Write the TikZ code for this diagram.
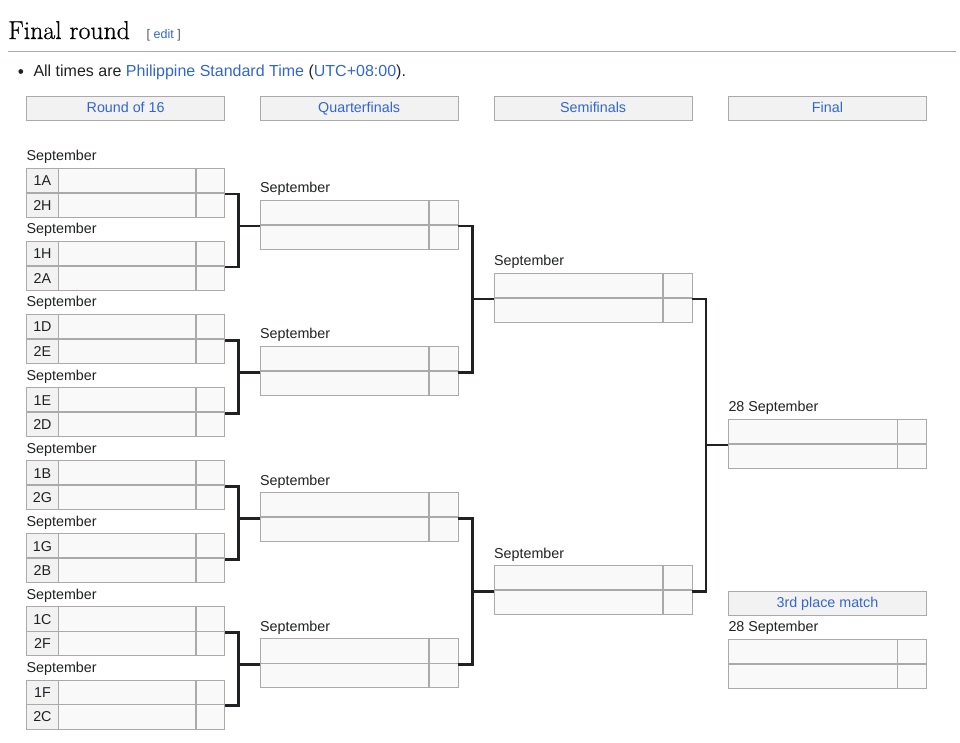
\documentclass[tikz,border=0pt]{standalone}
\usepackage{fontspec}
\newfontfamily\arial{Liberation Sans}
\newfontfamily\titlefont[FakeBold=0.6]{Latin Modern Roman}
\usetikzlibrary{calc}
\definecolor{txt}{HTML}{202122}
\definecolor{link}{HTML}{3366CC}
\definecolor{bord}{HTML}{AAAAAA}
\definecolor{cellfill}{HTML}{F9F9F9}
\definecolor{seedfill}{HTML}{F2F2F2}
\definecolor{hdrfill}{HTML}{F2F2F2}
\definecolor{rulec}{HTML}{A2A9B1}
\definecolor{editgray}{HTML}{54595D}
\newcommand{\bfont}{\arial\fontsize{14.3}{17}\selectfont}
% generic match: #1 name, #2 x, #3 top, #4 date label
\newcommand{\bmatch}[4]{%
  \node[matchbox, anchor=north west] (#1) at (#2,#3) {};
  \node[datelbl] (#1-lbl) at (#2,#3-7.6) {#4};
}
\newcommand{\bdividers}[1]{%
  \draw[divider] (#1.west) -- (#1.east);
  \draw[divider] ([xshift=-29pt]#1.north east) -- ([xshift=-29pt]#1.south east);
}
% seeded match: #1 name, #2 x, #3 top, #4 label, #5 seed1, #6 seed2
\newcommand{\smatch}[6]{%
  \bmatch{#1}{#2}{#3}{#4}
  \filldraw[seedcell] (#1.north west) rectangle ([xshift=31.8pt]#1.south west);
  \bdividers{#1}
  \node[seedtxt] (#1-s1) at ([xshift=15.9pt,yshift=-17.4pt]#1.north west) {#5};
  \node[seedtxt] (#1-s2) at ([xshift=15.9pt,yshift=-41.9pt]#1.north west) {#6};
}
\newcommand{\umatch}[4]{%
  \bmatch{#1}{#2}{#3}{#4}
  \bdividers{#1}
}
% connector: #1 upper, #2 lower, #3 next, #4 xshift of vertical from next.west
\newcommand{\joinpair}[4]{%
  \draw[conn] ([yshift=-1.2pt]#1.east) -| ([xshift=#4,yshift=-1.2pt]#3.west) |- ([yshift=-1.2pt]#2.east);
  \draw[conn] ([xshift=#4,yshift=-1.2pt]#3.west) -- ([yshift=-1.2pt]#3.west);
}
\begin{document}
\begin{tikzpicture}[x=1pt,y=-1pt,
  matchbox/.style={draw=bord, fill=cellfill, line width=1pt, minimum width=198.3pt, minimum height=49pt, inner sep=0pt, outer sep=0pt},
  hdr/.style={draw=bord, fill=hdrfill, line width=1pt, minimum width=198.3pt, minimum height=24pt, inner sep=0pt, outer sep=0pt, anchor=north west, font=\bfont, text=link, text height=10.3pt, text depth=1.8pt},
  datelbl/.style={anchor=base west, inner sep=0pt, font=\bfont, text=txt},
  seedtxt/.style={anchor=base, inner sep=0pt, font=\bfont, text=txt},
  seedcell/.style={draw=bord, fill=seedfill, line width=1pt},
  divider/.style={draw=bord, line width=1.7pt},
  conn/.style={draw=txt, line width=2.7pt, line join=miter}
]
\fill[white] (0,0) rectangle (960,742);
\useasboundingbox (0,0) rectangle (960,742);

% heading
\node[anchor=base west, inner sep=0pt, font=\titlefont\fontsize{25.8}{30}\selectfont, text=black] (title) at (8,39) {Final round};
\node[anchor=base west, inner sep=0pt, font=\arial\fontsize{12.5}{15}\selectfont, text=editgray] (edit) at (146.5,38.5) {[ \textcolor{link}{edit} ]};
\draw[rulec, line width=1pt] (8,51) -- (956,51);
\node[circle, fill=txt, minimum size=4.8pt, inner sep=0pt] (bullet) at (20.8,71.5) {};
\node[anchor=base west, inner sep=0pt, font=\arial\fontsize{16}{19}\selectfont, text=txt] (note) at (33.3,76) {All times are \textcolor{link}{Philippine Standard Time} (\textcolor{link}{UTC+08:00}).};

% round headers
\node[hdr] (h1) at (26.5,96.5) {Round of 16};
\node[hdr] (h2) at (260,96.5) {Quarterfinals};
\node[hdr] (h3) at (494,96.5) {Semifinals};
\node[hdr] (h4) at (728.3,96.5) {Final};

% round of 16
\smatch{r1}{26.5}{168.3}{September}{1A}{2H}
\smatch{r2}{26.5}{241.4}{September}{1H}{2A}
\smatch{r3}{26.5}{314.5}{September}{1D}{2E}
\smatch{r4}{26.5}{387.6}{September}{1E}{2D}
\smatch{r5}{26.5}{460.7}{September}{1B}{2G}
\smatch{r6}{26.5}{533.8}{September}{1G}{2B}
\smatch{r7}{26.5}{606.9}{September}{1C}{2F}
\smatch{r8}{26.5}{680.0}{September}{1F}{2C}

% quarterfinals
\umatch{q1}{260}{200.3}{September}
\umatch{q2}{260}{346.5}{September}
\umatch{q3}{260}{492.7}{September}
\umatch{q4}{260}{638.9}{September}

% semifinals
\umatch{s1}{494}{273.3}{September}
\umatch{s2}{494}{565.8}{September}

% final
\umatch{f1}{728.3}{419.3}{28 September}

% third place
\node[hdr] (h5) at (728.3,591.3) {3rd place match};
\umatch{t1}{728.3}{639.3}{28 September}

% connectors
\joinpair{r1}{r2}{q1}{-21.7pt}
\joinpair{r3}{r4}{q2}{-21.7pt}
\joinpair{r5}{r6}{q3}{-21.7pt}
\joinpair{r7}{r8}{q4}{-21.7pt}
\joinpair{q1}{q2}{s1}{-21.7pt}
\joinpair{q3}{q4}{s2}{-21.7pt}
\joinpair{s1}{s2}{f1}{-22.3pt}
\end{tikzpicture}
\end{document}
